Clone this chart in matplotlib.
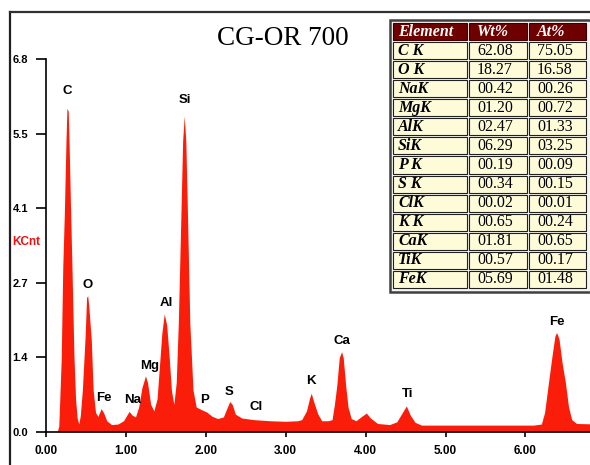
import matplotlib.pyplot as plt
from matplotlib.patches import Rectangle
from matplotlib.lines import Line2D

# spectre EDS (energie en keV, coups en KCnt)
energie = [0.00, 0.14, 0.16, 0.19, 0.21, 0.23, 0.25, 0.262, 0.278, 0.29, 0.31, 0.325,
           0.35, 0.37, 0.39, 0.41, 0.43, 0.455, 0.49, 0.508, 0.522, 0.535, 0.567, 0.59,
           0.62, 0.65, 0.69, 0.72, 0.76, 0.82, 0.90, 0.97, 1.04, 1.08, 1.12, 1.16,
           1.20, 1.245, 1.27, 1.31, 1.35, 1.39, 1.42, 1.45, 1.48, 1.51, 1.54, 1.57,
           1.60, 1.63, 1.656, 1.686, 1.71, 1.73, 1.75, 1.773, 1.80, 1.84, 1.88, 1.95,
           2.01, 2.08, 2.15, 2.22, 2.27, 2.30, 2.33, 2.37, 2.45, 2.60, 2.80, 3.00,
           3.15, 3.20, 3.26, 3.30, 3.32, 3.35, 3.40, 3.45, 3.53, 3.58, 3.61, 3.64,
           3.67, 3.70, 3.72, 3.75, 3.78, 3.82, 3.88, 3.95, 4.01, 4.06, 4.15, 4.30,
           4.39, 4.46, 4.51, 4.56, 4.62, 4.70, 6.10, 6.20, 6.24, 6.28, 6.33, 6.37,
           6.39, 6.42, 6.46, 6.50, 6.54, 6.58, 6.64, 6.90]
kcnt = [0.00, 0.00, 0.10, 1.30, 3.00, 4.00, 5.30, 5.90, 5.85, 5.20, 3.90, 3.00,
        1.37, 0.60, 0.25, 0.14, 0.30, 0.76, 1.75, 2.45, 2.48, 2.30, 1.67, 0.76,
        0.35, 0.28, 0.42, 0.35, 0.20, 0.13, 0.14, 0.20, 0.37, 0.30, 0.27, 0.45,
        0.80, 1.02, 0.90, 0.50, 0.38, 0.60, 1.20, 1.80, 2.15, 1.95, 1.40, 0.75,
        0.50, 0.90, 1.98, 3.81, 5.30, 5.76, 5.30, 3.81, 1.98, 0.76, 0.45, 0.40,
        0.36, 0.28, 0.24, 0.27, 0.45, 0.55, 0.50, 0.32, 0.25, 0.22, 0.20, 0.19,
        0.20, 0.22, 0.38, 0.62, 0.70, 0.55, 0.33, 0.20, 0.20, 0.22, 0.50, 0.85,
        1.35, 1.46, 1.35, 0.85, 0.45, 0.24, 0.20, 0.28, 0.34, 0.25, 0.15, 0.13,
        0.18, 0.35, 0.47, 0.30, 0.17, 0.12, 0.12, 0.14, 0.35, 0.80, 1.35, 1.75,
        1.81, 1.70, 1.25, 0.90, 0.45, 0.22, 0.15, 0.14]

# etiquettes des raies
raies = ["C", "O", "Fe", "Na", "Mg", "Al", "Si", "P", "S", "Cl", "K", "Ca", "Ti", "Fe"]
raies_x = [0.27, 0.52, 0.73, 1.09, 1.30, 1.51, 1.74, 1.99, 2.29, 2.63, 3.32, 3.70, 4.52, 6.40]
raies_y = [6.22, 2.68, 0.61, 0.58, 1.20, 2.35, 6.05, 0.58, 0.73, 0.45, 0.92, 1.66, 0.69, 2.00]

yticks = [0.0, 1.36, 2.72, 4.08, 5.44, 6.8]
yticklabels = ["0.0", "1.4", "2.7", "4.1", "5.5", "6.8"]
xticks = [0, 1, 2, 3, 4, 5, 6]
xticklabels = ["0.00", "1.00", "2.00", "3.00", "4.00", "5.00", "6.00"]

# tableau de quantification
elements = ["C K", "O K", "NaK", "MgK", "AlK", "SiK", "P K", "S K", "ClK", "K K", "CaK", "TiK", "FeK"]
wt = ["62.08", "18.27", "00.42", "01.20", "02.47", "06.29", "00.19", "00.34", "00.02", "00.65", "01.81", "00.57", "05.69"]
at = ["75.05", "16.58", "00.26", "00.72", "01.33", "03.25", "00.09", "00.15", "00.01", "00.24", "00.65", "00.17", "01.48"]
entetes = ["Element", "Wt%", "At%"]

W, H = 590, 465
fig = plt.figure(figsize=(5.9, 4.65), dpi=100)
fig.patch.set_facecolor("white")

rouge = "#FA1E0A"
ax = fig.add_axes([46 / W, 1 - 431.7 / H, (W - 46) / W, (431.7 - 59) / H])
ax.fill_between(energie, kcnt, 0, color=rouge, lw=0)
ax.set_xlim(0, (W - 46) / 79.9)
ax.set_ylim(0, 6.8)
for s in ["top", "right"]:
    ax.spines[s].set_visible(False)
for s in ["left", "bottom"]:
    ax.spines[s].set_linewidth(1.2)
    ax.spines[s].set_zorder(5)
ax.set_yticks(yticks)
ax.set_yticklabels(yticklabels, fontfamily="Liberation Sans", fontweight="bold", fontsize=8)
ax.set_xticks(xticks)
ax.set_xticklabels(xticklabels, fontfamily="Liberation Sans", fontweight="bold", fontsize=8.5)
ax.tick_params(axis="y", length=7.5, width=1.2, pad=5.5)
ax.tick_params(axis="x", length=3.8, width=1.2, pad=6)

for nom, x, y in zip(raies, raies_x, raies_y):
    ax.text(x, y, nom, ha="center", va="center", fontfamily="Liberation Sans",
            fontweight="bold", fontsize=9.5)

fig.text(12.5 / W, 1 - 241.7 / H, "KCnt", color="#F01010", ha="left", va="center",
         fontfamily="Liberation Sans", fontweight="bold", fontsize=8.5)

fig.text(282.5 / W, 1 - 38 / H, "CG-OR 700", ha="center", va="center",
         fontfamily="Liberation Serif", fontsize=19.5)

# cadre
fig.add_artist(Line2D([10 / W, 10 / W], [0, 1 - 12 / H], color="#202020", lw=1.6))
fig.add_artist(Line2D([10 / W, 1], [1 - 12 / H, 1 - 12 / H], color="#303030", lw=1.6))

# tableau
tax = fig.add_axes([386 / W, 1 - 296 / H, (W - 386) / W, (296 - 14) / H])
tax.set_xlim(386, W)
tax.set_ylim(296, 14)
tax.axis("off")
tax.add_patch(Rectangle((390, 20), 205, 272, facecolor="#F4F4F0", edgecolor="#404040", lw=1.8))

col_x0 = [393, 469, 529]
col_x1 = [467, 527, 586]
haut_entete = (23, 41)
pas = (289 - 41) / len(elements)

for j in range(3):
    tax.add_patch(Rectangle((col_x0[j], haut_entete[0]), col_x1[j] - col_x0[j],
                            haut_entete[1] - haut_entete[0] - 1,
                            facecolor="#6E0000", edgecolor="#3A0000", lw=0.8))
    tx = col_x0[j] + (5 if j == 0 else 8)
    tax.text(tx, (haut_entete[0] + haut_entete[1]) / 2, entetes[j], color="white",
             ha="left", va="center", fontfamily="Liberation Serif", fontweight="bold",
             fontstyle="italic", fontsize=11.5)

for i in range(len(elements)):
    y0 = 41 + i * pas + 1
    yc = 41 + (i + 0.5) * pas
    valeurs = [elements[i], wt[i], at[i]]
    for j in range(3):
        tax.add_patch(Rectangle((col_x0[j], y0), col_x1[j] - col_x0[j], pas - 2,
                                facecolor="#FEFCD8", edgecolor="#202020", lw=0.8))
        if j == 0:
            tax.text(col_x0[j] + 5, yc, valeurs[j], ha="left", va="center",
                     fontfamily="Liberation Serif", fontweight="bold", fontstyle="italic",
                     fontsize=11.5)
        else:
            tax.text(col_x0[j] + 8, yc, valeurs[j], ha="left", va="center",
                     fontfamily="Liberation Serif", fontsize=11.5)

fig.savefig("out.png", dpi=100)
